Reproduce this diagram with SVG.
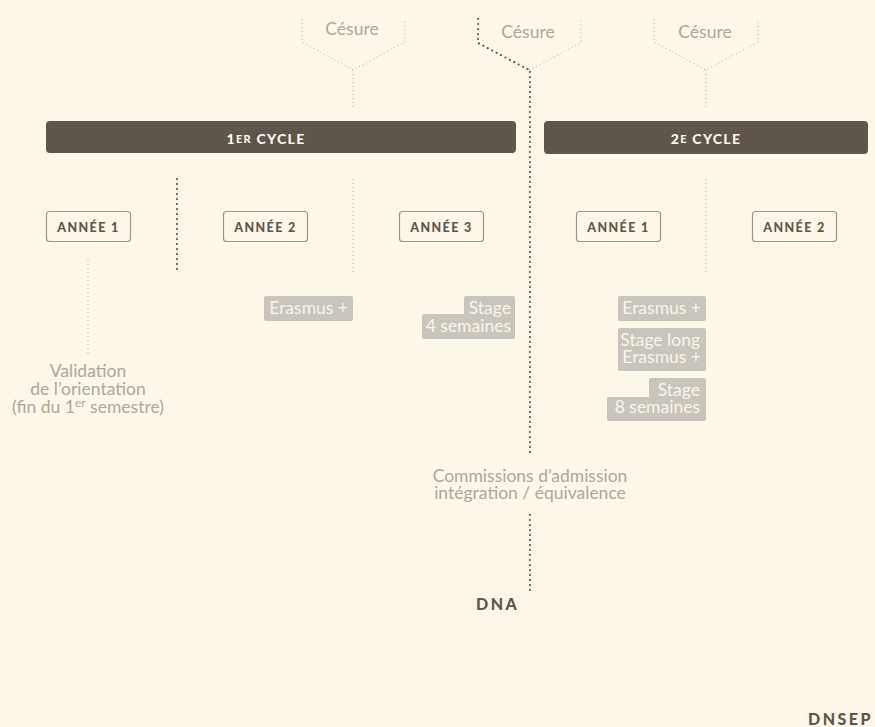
<svg xmlns="http://www.w3.org/2000/svg" width="875" height="727" viewBox="0 0 875 727">
<style>
.bg{fill:#fdf6e9}
.bar{fill:#5e554b}
.bart{font-family:Lato,"Liberation Sans",sans-serif;font-weight:900;font-size:14px;letter-spacing:1.3px;fill:#fdf6e9;text-anchor:middle}
.yr rect{fill:none;stroke:#9c968e;stroke-width:1.2}
.yr text{font-family:Lato,"Liberation Sans",sans-serif;font-weight:900;font-size:12.5px;letter-spacing:1.4px;fill:#5e554b;text-anchor:middle}
.lt{font-family:Lato,"Liberation Sans",sans-serif;font-size:17.5px;fill:#aca89f}
.tag{fill:#c9c5bc}
.tagt{font-family:Lato,"Liberation Sans",sans-serif;font-size:17.5px;fill:#f8f3e8;text-anchor:end}
.ld{fill:none;stroke:#b5b1a8;stroke-width:1;stroke-dasharray:1 3}
.dd{fill:none;stroke:#5e554b;stroke-width:2.2;stroke-linecap:round;stroke-dasharray:0 5}
.dip{font-family:Lato,"Liberation Sans",sans-serif;font-weight:900;font-size:16px;letter-spacing:2.5px;fill:#5e554b}
</style>
<rect class="bg" x="0" y="0" width="875" height="727"/>
<g id="connectors">
<path class="ld" d="M302 19 V42 L353 70 L405 42 V19"/>
<path class="ld" d="M353 70 V107"/>
<path class="ld" d="M654 19 V42 L706 70 L758 42 V19"/>
<path class="ld" d="M706 70 V107"/>
<path class="ld" d="M529 70 L581 43 V19"/>
<path class="dd" d="M478 19 V43 L529 70"/>
<path class="dd" d="M530 72 V455"/>
<path class="dd" d="M530 515 V593"/>
<path class="dd" d="M177 179 V274"/>
<path class="ld" d="M353 179 V274"/>
<path class="ld" d="M706 179 V275"/>
<path class="ld" d="M88 260 V353"/>
</g>
<g id="cesure1"><text class="lt" x="352" y="35" text-anchor="middle">Césure</text></g>
<g id="cesure2"><text class="lt" x="528" y="38" text-anchor="middle">Césure</text></g>
<g id="cesure3"><text class="lt" x="705" y="38" text-anchor="middle">Césure</text></g>
<g id="cycle1">
<rect class="bar" x="46" y="121" width="470" height="32" rx="4"/>
<text class="bart" x="266" y="144">1<tspan font-size="11" dy="-1">ER</tspan><tspan dy="1"> CYCLE</tspan></text>
</g>
<g id="cycle2">
<rect class="bar" x="544" y="121" width="324" height="33" rx="4"/>
<text class="bart" x="706" y="144">2<tspan font-size="11" dy="-1">E</tspan><tspan dy="1"> CYCLE</tspan></text>
</g>
<g id="c1-annee1" class="yr"><rect x="46.5" y="211.5" width="84" height="30" rx="3"/><text x="88.5" y="232">ANNÉE 1</text></g>
<g id="c1-annee2" class="yr"><rect x="223.5" y="211.5" width="84" height="30" rx="3"/><text x="265.5" y="232">ANNÉE 2</text></g>
<g id="c1-annee3" class="yr"><rect x="399.5" y="211.5" width="84" height="30" rx="3"/><text x="441.5" y="232">ANNÉE 3</text></g>
<g id="c2-annee1" class="yr"><rect x="576.5" y="211.5" width="84" height="30" rx="3"/><text x="618.5" y="232">ANNÉE 1</text></g>
<g id="c2-annee2" class="yr"><rect x="752.5" y="211.5" width="84" height="30" rx="3"/><text x="794.5" y="232">ANNÉE 2</text></g>
<g id="validation">
<text class="lt" text-anchor="middle"><tspan x="88" y="377">Validation</tspan><tspan x="88" y="395">de l’orientation</tspan><tspan x="88" y="413">(fin du 1<tspan font-size="12" dy="-6">er</tspan><tspan dy="6"> semestre)</tspan></tspan></text>
</g>
<g id="c1-erasmus">
<rect class="tag" x="264" y="296" width="89" height="25" rx="2"/>
<text class="tagt" x="348" y="314">Erasmus +</text>
</g>
<g id="c1-stage">
<rect class="tag" x="464" y="296" width="51" height="22" rx="2"/>
<rect class="tag" x="422" y="314" width="93" height="25" rx="2"/>
<text class="tagt"><tspan x="511" y="314">Stage</tspan><tspan x="511" y="332">4 semaines</tspan></text>
</g>
<g id="c2-erasmus">
<rect class="tag" x="618" y="296" width="88" height="25" rx="2"/>
<text class="tagt" x="701" y="314">Erasmus +</text>
</g>
<g id="c2-stagelong">
<rect class="tag" x="618" y="328" width="88" height="43" rx="2"/>
<text class="tagt"><tspan x="700" y="346">Stage long</tspan><tspan x="701" y="363">Erasmus +</tspan></text>
</g>
<g id="c2-stage">
<rect class="tag" x="649" y="378" width="57" height="23" rx="2"/>
<rect class="tag" x="607" y="397" width="99" height="24" rx="2"/>
<text class="tagt"><tspan x="700" y="396">Stage</tspan><tspan x="700" y="413">8 semaines</tspan></text>
</g>
<g id="commissions">
<text class="lt" text-anchor="middle"><tspan x="530" y="482">Commissions d’admission</tspan><tspan x="530" y="499">intégration / équivalence</tspan></text>
</g>
<g id="dna"><text class="dip" x="476" y="610">DNA</text></g>
<g id="dnsep"><text class="dip" x="808" y="725">DNSEP</text></g>
</svg>
